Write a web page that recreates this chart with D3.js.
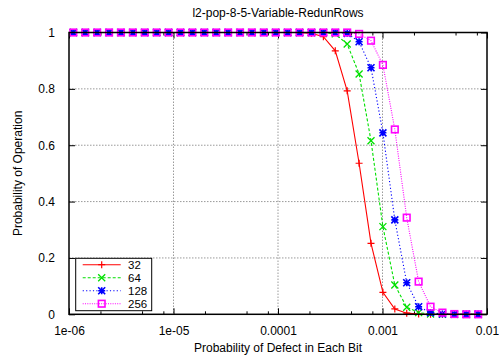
<!DOCTYPE html>
<html>
<head>
<meta charset="utf-8">
<script src="https://cdn.jsdelivr.net/npm/d3@7"></script>
<style>
  html, body { margin: 0; padding: 0; background: #fff; }
  svg { display: block; font-family: "Liberation Sans", Arial, sans-serif; }
</style>
</head>
<body>
<svg id="chart" width="499" height="360"></svg>
<script>
// Defect probability per bit (x), one entry per simulated point
const defectProb = [
  1.1e-6, 1.43e-6, 1.859e-6, 2.4167e-6, 3.1417e-6, 4.0842e-6, 5.3094e-6, 6.9023e-6,
  8.973e-6, 1.1665e-5, 1.5164e-5, 1.9713e-5, 2.5628e-5, 3.3316e-5, 4.3311e-5, 5.6304e-5,
  7.3195e-5, 9.5154e-5, 1.2370e-4, 1.6081e-4, 2.0906e-4, 2.7177e-4, 3.5330e-4, 4.5929e-4,
  5.9708e-4, 7.7620e-4, 1.00906e-3, 1.3118e-3, 1.7053e-3, 2.2169e-3, 2.8820e-3, 3.7466e-3,
  4.8706e-3, 6.3318e-3, 8.2313e-3
];

// Probability of operation for each number of redundant rows
const rows32 = [
  1, 1, 1, 1, 1, 1, 1, 1, 1, 1, 1, 1, 1, 1, 1, 1, 1, 1, 1, 1,
  0.997, 0.985, 0.935, 0.793, 0.536, 0.252, 0.078, 0.019, 0.004, 0.001,
  0, 0, 0, 0, 0
];
const rows64 = [
  1, 1, 1, 1, 1, 1, 1, 1, 1, 1, 1, 1, 1, 1, 1, 1, 1, 1, 1, 1, 1, 1,
  0.995, 0.959, 0.853, 0.616, 0.311, 0.104, 0.025, 0.006, 0.001,
  0, 0, 0, 0
];
const rows128 = [
  1, 1, 1, 1, 1, 1, 1, 1, 1, 1, 1, 1, 1, 1, 1, 1, 1, 1, 1, 1, 1, 1, 1,
  0.997, 0.967, 0.875, 0.644, 0.335, 0.112, 0.027, 0.006, 0.001,
  0, 0, 0
];
const rows256 = [
  1, 1, 1, 1, 1, 1, 1, 1, 1, 1, 1, 1, 1, 1, 1, 1, 1, 1, 1, 1, 1, 1, 1, 1,
  0.995, 0.971, 0.885, 0.656, 0.343, 0.116, 0.027, 0.006, 0.001,
  0, 0
];

const seriesNames = ["32", "64", "128", "256"];
const xTickValues = [1e-6, 1e-5, 1e-4, 1e-3, 1e-2];
const xTickLabels = ["1e-06", "1e-05", "0.0001", "0.001", "0.01"];
const xMinorTicks = [2e-6, 5e-6, 8e-6, 2e-5, 5e-5, 8e-5, 2e-4, 5e-4, 8e-4, 2e-3, 5e-3, 8e-3];
const yTickValues = [0, 0.2, 0.4, 0.6, 0.8, 1];
const yTickLabels = ["0", "0.2", "0.4", "0.6", "0.8", "1"];

const titleText = "l2-pop-8-5-Variable-RedunRows";
const xLabel = "Probability of Defect in Each Bit";
const yLabel = "Probability of Operation";

const svg = d3.select("#chart");
const L = 69, R = 487, T = 32.5, B = 314.3;

const x = d3.scaleLog().domain([1e-6, 1e-2]).range([L, R]);
const y = d3.scaleLinear().domain([0, 1]).range([B, T]);

// Grid
const grid = svg.append("g").attr("stroke", "#9a9a9a").attr("stroke-width", 1)
  .attr("stroke-dasharray", "1.5,1.5");
xTickValues.slice(1, -1).forEach(v => {
  grid.append("line").attr("x1", x(v)).attr("x2", x(v)).attr("y1", T).attr("y2", B);
});
yTickValues.slice(1, -1).forEach(v => {
  grid.append("line").attr("x1", L).attr("x2", R).attr("y1", y(v)).attr("y2", y(v));
});

// Axes with inward ticks on all four sides
function styleAxis(g) {
  g.select(".domain").remove();
  g.selectAll(".tick line").attr("stroke", "#000").attr("stroke-width", 1);
  g.selectAll("text").attr("fill", "#000").attr("font-size", 12)
    .attr("font-family", "Liberation Sans, Arial, sans-serif");
}
const fmtX = d => xTickLabels[xTickValues.indexOf(d)];
const fmtY = d => yTickLabels[yTickValues.indexOf(d)];

svg.append("g").attr("transform", `translate(0,${B})`)
  .call(d3.axisBottom(x).tickValues(xTickValues).tickFormat(fmtX).tickSizeInner(-6).tickSizeOuter(0).tickPadding(12))
  .call(styleAxis);
svg.append("g").attr("transform", `translate(0,${B})`)
  .call(d3.axisBottom(x).tickValues(xMinorTicks).tickFormat("").tickSizeInner(-3).tickSizeOuter(0))
  .call(styleAxis);
svg.append("g").attr("transform", `translate(0,${T})`)
  .call(d3.axisTop(x).tickValues(xTickValues).tickFormat("").tickSizeInner(-6).tickSizeOuter(0))
  .call(styleAxis);
svg.append("g").attr("transform", `translate(0,${T})`)
  .call(d3.axisTop(x).tickValues(xMinorTicks).tickFormat("").tickSizeInner(-3).tickSizeOuter(0))
  .call(styleAxis);
svg.append("g").attr("transform", `translate(${L},0)`)
  .call(d3.axisLeft(y).tickValues(yTickValues).tickFormat(fmtY).tickSizeInner(-6).tickSizeOuter(0).tickPadding(14))
  .call(styleAxis);
svg.append("g").attr("transform", `translate(${R},0)`)
  .call(d3.axisRight(y).tickValues(yTickValues).tickFormat("").tickSizeInner(-6).tickSizeOuter(0))
  .call(styleAxis);

// Series styling
const series = [
  { name: seriesNames[0], values: rows32, color: "#ff0000", dash: null, marker: "plus" },
  { name: seriesNames[1], values: rows64, color: "#00e000", dash: "3,2", marker: "cross" },
  { name: seriesNames[2], values: rows128, color: "#0000ff", dash: "1.2,2.2", marker: "star" },
  { name: seriesNames[3], values: rows256, color: "#ff00ff", dash: "1,1.3", marker: "square" }
];

function drawMarker(g, kind, cx, cy, color) {
  const s = 3.5;
  if (kind === "plus") {
    g.append("path").attr("d", `M${cx - s},${cy}H${cx + s}M${cx},${cy - s}V${cy + s}`)
      .attr("stroke", color).attr("stroke-width", 1.2).attr("fill", "none");
  } else if (kind === "cross") {
    g.append("path").attr("d", `M${cx - s},${cy - s}L${cx + s},${cy + s}M${cx - s},${cy + s}L${cx + s},${cy - s}`)
      .attr("stroke", color).attr("stroke-width", 1.3).attr("fill", "none");
  } else if (kind === "star") {
    g.append("path").attr("d",
      `M${cx - s},${cy}H${cx + s}M${cx},${cy - s}V${cy + s}M${cx - s},${cy - s}L${cx + s},${cy + s}M${cx - s},${cy + s}L${cx + s},${cy - s}`)
      .attr("stroke", color).attr("stroke-width", 1.6).attr("fill", "none");
  } else {
    g.append("rect").attr("x", cx - 3.3).attr("y", cy - 3.3).attr("width", 6.6).attr("height", 6.6)
      .attr("stroke", color).attr("stroke-width", 1.6).attr("fill", "none");
  }
}

const line = d3.line().x(d => x(d[0])).y(d => y(d[1]));
const plot = svg.append("g");
series.forEach(sr => {
  const pts = defectProb.map((p, i) => [p, sr.values[i]]);
  const g = plot.append("g");
  g.append("path").attr("d", line(pts)).attr("fill", "none")
    .attr("stroke", sr.color).attr("stroke-width", 1.1)
    .attr("stroke-dasharray", sr.dash);
  pts.forEach(p => drawMarker(g, sr.marker, x(p[0]), y(p[1]), sr.color));
});

// Border
svg.append("rect").attr("x", L).attr("y", T).attr("width", R - L).attr("height", B - T)
  .attr("fill", "none").attr("stroke", "#000").attr("stroke-width", 1.5);

// Legend
const leg = svg.append("g");
leg.append("rect").attr("x", 75.7).attr("y", 258.3).attr("width", 76).attr("height", 52.4)
  .attr("fill", "#fff").attr("stroke", "#000").attr("stroke-width", 1);
series.forEach((sr, i) => {
  const ly = 264.7 + i * 13;
  leg.append("line").attr("x1", 82.7).attr("x2", 120.7).attr("y1", ly).attr("y2", ly)
    .attr("stroke", sr.color).attr("stroke-width", 1.1).attr("stroke-dasharray", sr.dash);
  drawMarker(leg, sr.marker, 101.7, ly, sr.color);
  leg.append("text").attr("x", 128).attr("y", ly).attr("dy", "0.36em")
    .attr("font-size", 11.5).attr("fill", "#000").text(sr.name);
});

// Titles
svg.append("text").attr("x", (L + R) / 2).attr("y", 17).attr("text-anchor", "middle")
  .attr("font-size", 12).attr("fill", "#000").text(titleText);
svg.append("text").attr("x", (L + R) / 2).attr("y", 352).attr("text-anchor", "middle")
  .attr("font-size", 12).attr("fill", "#000").text(xLabel);
svg.append("text").attr("transform", `translate(22,${(T + B) / 2}) rotate(-90)`)
  .attr("text-anchor", "middle").attr("font-size", 12).attr("fill", "#000").text(yLabel);
</script>
</body>
</html>
